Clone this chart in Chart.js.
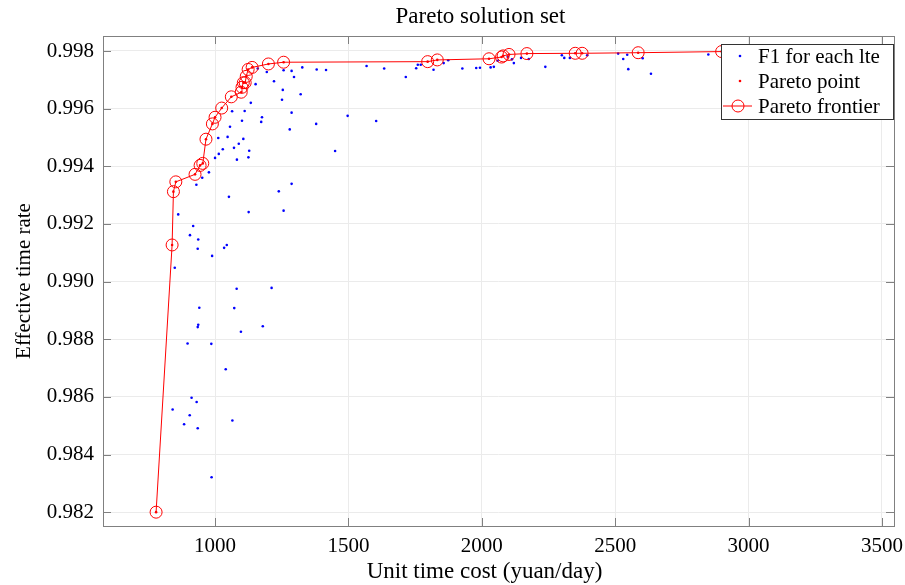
<!DOCTYPE html>
<html>
<head>
<meta charset="utf-8">
<script src="https://cdn.jsdelivr.net/npm/chart.js"></script>
<style>
  body { margin: 0; background: #fff; }
  #wrap { width: 905px; height: 585px; }
</style>
</head>
<body>
<div id="wrap"><canvas id="paretoChart"></canvas></div>
<script>
// Data
const xTicks = [1000, 1500, 2000, 2500, 3000, 3500];
const yTicks = [0.982, 0.984, 0.986, 0.988, 0.990, 0.992, 0.994, 0.996, 0.998];

// every solution found (blue dots)
const allCost = [1160, 1194, 1257, 1287, 1327, 1381, 1416, 1152, 1221, 1296,
  1254, 1321, 1251, 1134, 1064, 1111, 1287, 1176, 1173, 1101,
  1056, 1379, 1280, 1012, 1047, 1106, 1089, 1071, 1029, 1128,
  1014, 1000, 1082, 1125, 977, 952, 930, 1287, 1239, 1052,
  862, 1126, 1257, 918, 906, 937, 935, 1044, 1034, 989,
  849, 1081, 1212, 941, 1072, 937, 935, 1179, 1097, 897,
  986, 1040, 912, 931, 841, 905, 884, 935, 1065, 987,
  1450, 1497, 1604, 1568, 1634, 1715, 1754, 1760, 1771, 1819,
  1857, 1874, 1927, 1979, 1993, 2033, 2045, 2059, 2097, 2113,
  2120, 2147, 2176, 2238, 2300, 2309, 2330, 2395, 2511, 2530,
  2545, 2549, 2603, 2634, 2849];
const allRate = [0.99739, 0.99727, 0.99733, 0.99731, 0.99743, 0.99736, 0.99734, 0.99685, 0.99695, 0.99710,
  0.99665, 0.99650, 0.99631, 0.99620, 0.99591, 0.99592, 0.99586, 0.99570, 0.99554, 0.99558,
  0.99537, 0.99547, 0.99528, 0.99498, 0.99502, 0.99495, 0.99478, 0.99464, 0.99459, 0.99454,
  0.99443, 0.99429, 0.99423, 0.99431, 0.99379, 0.99360, 0.99336, 0.99339, 0.99313, 0.99294,
  0.99233, 0.99241, 0.99246, 0.99193, 0.99161, 0.99146, 0.99114, 0.99127, 0.99117, 0.99089,
  0.99048, 0.98975, 0.98978, 0.98909, 0.98908, 0.98850, 0.98842, 0.98845, 0.98826, 0.98785,
  0.98784, 0.98696, 0.98597, 0.98582, 0.98556, 0.98536, 0.98505, 0.98491, 0.98518, 0.98321,
  0.99453, 0.99575, 0.99557, 0.99748, 0.99739, 0.99710, 0.99740, 0.99752, 0.99752, 0.99735,
  0.99758, 0.99768, 0.99739, 0.99741, 0.99742, 0.99743, 0.99745, 0.99766, 0.99780, 0.99771,
  0.99758, 0.99776, 0.99772, 0.99745, 0.99785, 0.99776, 0.99776, 0.99785, 0.99791, 0.99772,
  0.99787, 0.99737, 0.99775, 0.99721, 0.99788];

// pareto front (red circles)
const paretoCost = [779, 839, 844, 853, 925, 944, 954, 966, 990, 1000,
  1025, 1061, 1098, 1101, 1106, 1113, 1117, 1124, 1139, 1200,
  1257, 1797, 1833, 2027, 2074, 2080, 2102, 2169, 2350, 2376,
  2586, 2899];
const paretoRate = [0.98200, 0.99127, 0.99312, 0.99346, 0.99372, 0.99403, 0.99410, 0.99494, 0.99547, 0.99570,
  0.99602, 0.99641, 0.99657, 0.99674, 0.99690, 0.99690, 0.99712, 0.99736, 0.99743, 0.99755,
  0.99761, 0.99763, 0.99769, 0.99773, 0.99779, 0.99783, 0.99788, 0.99791, 0.99792, 0.99792,
  0.99794, 0.99798];

const chartTitle = 'Pareto solution set';
const xLabel = 'Unit time cost (yuan/day)';
const yLabel = 'Effective time rate';

const toPoints = (xs, ys) => xs.map((x, i) => ({ x: x, y: ys[i] }));

const serif = '"Liberation Serif", "DejaVu Serif", serif';
const axisGray = '#808080';

// MATLAB-like box, inward ticks, title/xlabel and legend inside the axes
const boxPlugin = {
  id: 'boxPlugin',
  afterDatasetsDraw(chart) {
    const { ctx, chartArea: a, scales } = chart;
    ctx.save();
    ctx.strokeStyle = axisGray;
    ctx.lineWidth = 1;
    ctx.beginPath();
    xTicks.forEach(v => {
      const px = Math.round(scales.x.getPixelForValue(v)) + 0.5;
      ctx.moveTo(px, a.bottom); ctx.lineTo(px, a.bottom - 8);
      ctx.moveTo(px, a.top); ctx.lineTo(px, a.top + 8);
    });
    yTicks.forEach(v => {
      const py = Math.round(scales.y.getPixelForValue(v)) + 0.5;
      ctx.moveTo(a.left, py); ctx.lineTo(a.left + 8, py);
      ctx.moveTo(a.right, py); ctx.lineTo(a.right - 8, py);
    });
    ctx.stroke();
    ctx.strokeRect(Math.round(a.left) + 0.5, Math.round(a.top) + 0.5,
      Math.round(a.right - a.left), Math.round(a.bottom - a.top));
    ctx.restore();
  },
  afterDraw(chart) {
    const { ctx, chartArea: a } = chart;
    const mid = (a.left + a.right) / 2;
    ctx.save();
    ctx.fillStyle = '#000';
    ctx.textAlign = 'center';
    ctx.textBaseline = 'middle';
    ctx.font = '23px ' + serif;
    ctx.fillText(chartTitle, mid - 18, 17);
    ctx.fillText(xLabel, mid - 14, 572);

    // legend
    const w = 172, h = 75;
    const left = a.right - w - 1, top = a.top + 8;
    ctx.textAlign = 'left';
    ctx.fillStyle = '#fff';
    ctx.fillRect(left, top, w, h);
    ctx.strokeStyle = '#333';
    ctx.lineWidth = 1;
    ctx.strokeRect(left + 0.5, top + 0.5, w, h);
    ctx.font = '21px ' + serif;
    [0, 1, 2].forEach((di, row) => {
      const ds = chart.data.datasets[di];
      const cy = top + 12 + row * 25;
      const mx = left + 17;
      if (ds.showLine) {
        ctx.strokeStyle = ds.borderColor;
        ctx.beginPath();
        ctx.moveTo(left + 2, cy); ctx.lineTo(left + 31, cy);
        ctx.stroke();
        ctx.beginPath();
        ctx.arc(mx, cy, ds.pointRadius, 0, Math.PI * 2);
        ctx.stroke();
      } else {
        ctx.fillStyle = ds.pointBackgroundColor;
        ctx.beginPath();
        ctx.arc(mx + 2, cy, 1.3, 0, Math.PI * 2);
        ctx.fill();
      }
      ctx.fillStyle = '#000';
      ctx.fillText(ds.label, left + 37, cy + 1);
    });
    ctx.restore();
  }
};

const ctx = document.getElementById('paretoChart').getContext('2d');
const paretoChart = new Chart(ctx, {
  type: 'scatter',
  data: {
    datasets: [{
      label: 'F1 for each lte',
      data: toPoints(allCost, allRate),
      pointRadius: 1.3,
      pointBackgroundColor: '#0000ff',
      pointBorderWidth: 0,
      showLine: false,
      order: 3
    }, {
      label: 'Pareto point',
      data: toPoints(paretoCost, paretoRate),
      pointRadius: 1.3,
      pointBackgroundColor: '#ff0000',
      pointBorderWidth: 0,
      showLine: false,
      order: 2
    }, {
      label: 'Pareto frontier',
      data: toPoints(paretoCost, paretoRate),
      showLine: true,
      borderColor: '#ff0000',
      borderWidth: 1,
      pointRadius: 6,
      pointBorderColor: '#ff0000',
      pointBackgroundColor: 'rgba(0,0,0,0)',
      pointBorderWidth: 1,
      tension: 0,
      order: 1
    }]
  },
  options: {
    responsive: true,
    maintainAspectRatio: false,
    animation: false,
    layout: { padding: { top: 36, right: 11 } },
    plugins: {
      legend: { display: false },
      tooltip: { enabled: false },
      title: { display: false }
    },
    scales: {
      x: {
        type: 'linear',
        min: 580,
        max: 3545,
        afterBuildTicks: s => { s.ticks = xTicks.map(v => ({ value: v })); },
        afterFit: s => { s.height = 59; s.paddingLeft = 0; s.paddingRight = 0; },
        grid: { color: '#ebebeb', drawTicks: false },
        border: { display: false },
        ticks: {
          color: '#000',
          padding: 8,
          font: { family: serif, size: 21 },
          callback: v => String(v)
        },
        title: { display: false }
      },
      y: {
        type: 'linear',
        min: 0.98152,
        max: 0.99852,
        afterBuildTicks: s => { s.ticks = yTicks.map(v => ({ value: v })); },
        afterFit: s => { s.width = 103; s.paddingTop = 0; s.paddingBottom = 0; },
        grid: { color: '#ebebeb', drawTicks: false },
        border: { display: false },
        ticks: {
          color: '#000',
          padding: 9,
          font: { family: serif, size: 21 },
          callback: v => v.toFixed(3)
        },
        title: {
          display: true,
          text: yLabel,
          color: '#000',
          font: { family: serif, size: 21 },
          padding: { top: 12, bottom: 0 }
        }
      }
    }
  },
  plugins: [boxPlugin]
});
</script>
</body>
</html>
